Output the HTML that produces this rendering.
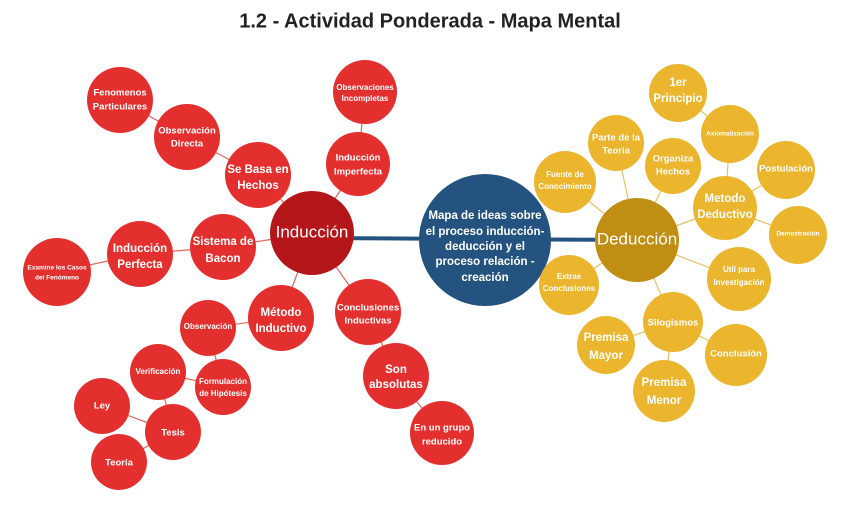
<!DOCTYPE html>
<html><head><meta charset="utf-8"><style>
html,body{margin:0;padding:0;background:#fff;}
svg text{font-family:"Liberation Sans",sans-serif;fill:#fff;text-anchor:middle;dominant-baseline:middle;font-weight:bold;}
</style></head><body>
<svg width="850" height="500" viewBox="0 0 850 500" xmlns="http://www.w3.org/2000/svg">
<text x="430" y="22" style="fill:#222;font-size:20px">1.2 - Actividad Ponderada - Mapa Mental</text>
<g stroke="#e0665f" stroke-width="1.2">
<line x1="312" y1="233" x2="258" y2="175"/><line x1="258" y1="175" x2="187" y2="137"/><line x1="187" y1="137" x2="120" y2="100"/>
<line x1="312" y1="233" x2="358" y2="164"/><line x1="358" y1="164" x2="365" y2="92"/>
<line x1="312" y1="233" x2="223" y2="247"/><line x1="223" y1="247" x2="140" y2="254"/><line x1="140" y1="254" x2="57" y2="272"/>
<line x1="312" y1="233" x2="281" y2="318"/><line x1="281" y1="318" x2="208" y2="328"/><line x1="208" y1="328" x2="223" y2="387"/>
<line x1="223" y1="387" x2="158" y2="372"/><line x1="158" y1="372" x2="173" y2="432"/><line x1="173" y1="432" x2="102" y2="406"/><line x1="173" y1="432" x2="119" y2="462"/>
<line x1="312" y1="233" x2="368" y2="312"/><line x1="368" y1="312" x2="396" y2="376"/><line x1="396" y1="376" x2="442" y2="433"/>
</g>
<g stroke="#e8c060" stroke-width="1.2">
<line x1="637" y1="240" x2="565" y2="182"/><line x1="637" y1="240" x2="616" y2="143"/><line x1="637" y1="240" x2="673" y2="166"/>
<line x1="637" y1="240" x2="725" y2="208"/><line x1="725" y1="208" x2="730" y2="134"/><line x1="730" y1="134" x2="678" y2="93"/>
<line x1="725" y1="208" x2="786" y2="170"/><line x1="725" y1="208" x2="798" y2="235"/>
<line x1="637" y1="240" x2="739" y2="279"/><line x1="637" y1="240" x2="569" y2="285"/><line x1="637" y1="240" x2="673" y2="322"/>
<line x1="673" y1="322" x2="606" y2="345"/><line x1="673" y1="322" x2="664" y2="391"/><line x1="673" y1="322" x2="736" y2="355"/>
</g>
<line x1="312" y1="238" x2="637" y2="240" stroke="#245380" stroke-width="4"/>
<g fill="#e3302f">
<circle cx="258" cy="175" r="33"/><circle cx="187" cy="137" r="33"/><circle cx="120" cy="100" r="33"/>
<circle cx="358" cy="164" r="32"/><circle cx="365" cy="92" r="32"/>
<circle cx="223" cy="247" r="33"/><circle cx="140" cy="254" r="33"/><circle cx="57" cy="272" r="34"/>
<circle cx="281" cy="318" r="33"/><circle cx="208" cy="328" r="28"/><circle cx="158" cy="372" r="28"/><circle cx="223" cy="387" r="28"/>
<circle cx="102" cy="406" r="28"/><circle cx="173" cy="432" r="28"/><circle cx="119" cy="462" r="28"/>
<circle cx="368" cy="312" r="33"/><circle cx="396" cy="376" r="33"/><circle cx="442" cy="433" r="32"/>
</g>
<circle cx="312" cy="233" r="42" fill="#b5161a"/>
<circle cx="485" cy="240" r="66" fill="#245380"/>
<g fill="#ebb52e">
<circle cx="565" cy="182" r="31"/><circle cx="616" cy="143" r="28"/><circle cx="673" cy="166" r="28"/>
<circle cx="678" cy="93" r="29"/><circle cx="730" cy="134" r="29"/><circle cx="786" cy="170" r="29"/>
<circle cx="725" cy="208" r="32"/><circle cx="798" cy="235" r="29"/><circle cx="739" cy="279" r="32"/>
<circle cx="569" cy="285" r="30"/><circle cx="673" cy="322" r="30"/><circle cx="606" cy="345" r="29"/>
<circle cx="736" cy="355" r="31"/><circle cx="664" cy="391" r="31"/>
</g>
<circle cx="637" cy="240" r="42" fill="#c08e12"/>

<text x="312" y="233" style="font-size:17px;font-weight:normal">Inducción</text>
<text x="637" y="240" style="font-size:17px;font-weight:normal">Deducción</text>
<g style="font-size:11.5px">
<text x="485" y="216">Mapa de ideas sobre</text><text x="485" y="232">el proceso inducción-</text>
<text x="485" y="247">deducción y el</text><text x="485" y="262">proceso relación -</text><text x="485" y="278">creación</text>
</g>
<g style="font-size:11.5px">
<text x="258" y="170">Se Basa en</text><text x="258" y="186">Hechos</text>
<text x="223" y="242">Sistema de</text><text x="223" y="259">Bacon</text>
<text x="140" y="249">Inducción</text><text x="140" y="265">Perfecta</text>
<text x="281" y="313">Método</text><text x="281" y="329">Inductivo</text>
<text x="396" y="370">Son</text><text x="396" y="385">absolutas</text>
<text x="606" y="338">Premisa</text><text x="606" y="356">Mayor</text>
<text x="664" y="383">Premisa</text><text x="664" y="401">Menor</text>
<text x="678" y="83">1er</text><text x="678" y="99">Principio</text>
<text x="725" y="199">Metodo</text><text x="725" y="215">Deductivo</text>
</g>
<g style="font-size:9.5px">
<text x="120" y="93">Fenomenos</text><text x="120" y="107">Particulares</text>
<text x="187" y="131">Observación</text><text x="187" y="144">Directa</text>
<text x="358" y="158">Inducción</text><text x="358" y="172">Imperfecta</text>
<text x="368" y="308">Conclusiones</text><text x="368" y="321">Inductivas</text>
<text x="442" y="428">En un grupo</text><text x="442" y="442">reducido</text>
<text x="673" y="159">Organiza</text><text x="673" y="172">Hechos</text>
<text x="616" y="138">Parte de la</text><text x="616" y="151">Teoria</text>
<text x="673" y="323">Silogismos</text><text x="736" y="354">Conclusión</text>
<text x="786" y="169">Postulación</text><text x="102" y="406">Ley</text><text x="173" y="433">Tesis</text><text x="119" y="463">Teoría</text>
</g>
<g style="font-size:8px">
<text x="365" y="88">Observaciones</text><text x="365" y="99">Incompletas</text>
<text x="208" y="327">Observación</text><text x="158" y="372">Verificación</text>
<text x="223" y="382">Formulación</text><text x="223" y="394">de Hipótesis</text>
<text x="565" y="175">Fuente de</text><text x="565" y="187">Conocimiento</text>
<text x="569" y="277">Extrae</text><text x="569" y="289">Conclusiones</text>
<text x="739" y="270">Util para</text><text x="739" y="283">Investigación</text>
</g>
<g style="font-size:6.5px">
<text x="57" y="268">Examine los Casos</text><text x="57" y="278">del Fenómeno</text>
<text x="730" y="134">Axiomatización</text><text x="798" y="234">Demostración</text>
</g>
</svg>
</body></html>
